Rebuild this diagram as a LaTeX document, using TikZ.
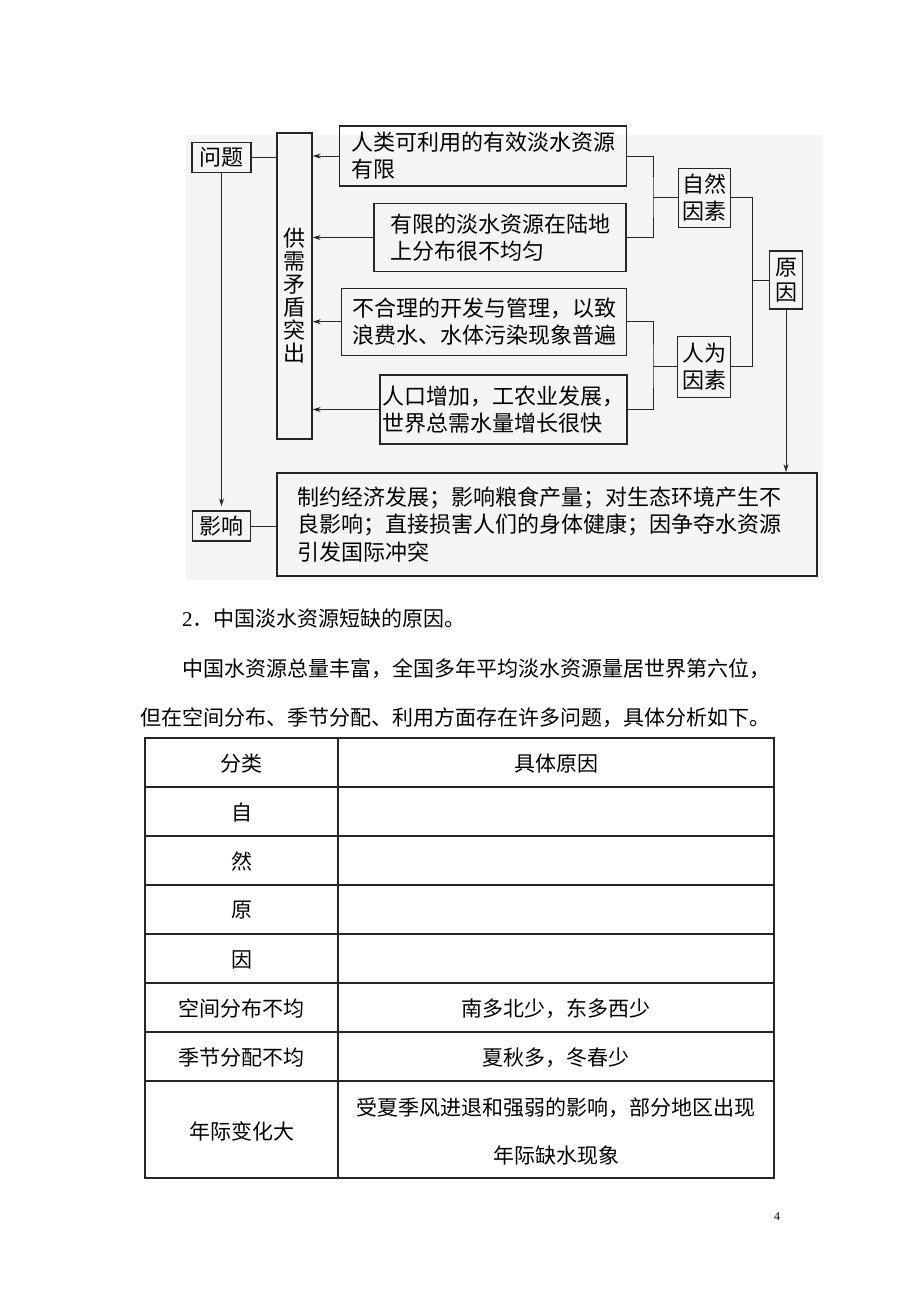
\documentclass[tikz,border=0pt]{standalone}
\usepackage{fontspec}
\setmainfont{Liberation Serif}
\newfontfamily\cjk{Noto Sans CJK SC}
\usetikzlibrary{
  arrows.meta,
  calc,
  positioning,
}
\tikzstyle{box} = [
  rectangle,
  draw=black!85,
  line width=1.4pt,
  inner sep=0pt,
  align=left,
  font=\cjk\fontsize{22}{27}\selectfont,
]
\tikzstyle{link} = [draw=black!85,line width=1pt]
\tikzstyle{linkarrow} = [-{Stealth[length=8pt,width=5pt]},draw=black!85,line width=1pt]
\tikzstyle{tabline} = [draw=black!85,line width=1.1pt]
\tikzstyle{cell} = [inner sep=0pt,align=center,font=\cjk\fontsize{21}{48}\selectfont]
\tikzstyle{para} = [anchor=west,inner sep=0pt,font=\cjk\fontsize{21}{25}\selectfont]

\begin{document}
\begin{tikzpicture}[x=1pt,y=-1pt]
			\useasboundingbox (0,0) rectangle (920,1302);
			\fill[black!4] (186,135) rectangle (823,580);

			\node[box,minimum width=59,minimum height=30] (wt) at (221.5,157.5) {问题};
			\node[box,minimum width=35,minimum height=306,align=center,font=\cjk\fontsize{22}{23}\selectfont] (mao) at (294.5,286) {\rule{0pt}{37pt}供\\需\\矛\\盾\\突\\出};

			\node[box,minimum width=287,minimum height=60] (b1) at (483,156) {人类可利用的有效淡水资源\\有限};
			\node[box,minimum width=252,minimum height=68] (b2) at (500,237.5) {有限的淡水资源在陆地\\上分布很不均匀};
			\node[box,minimum width=285,minimum height=67] (b3) at (484.2,321.7) {不合理的开发与管理，以致\\浪费水、水体污染现象普遍};
			\node[box,inner xsep=2.5pt,minimum height=69] (b4) at (503.5,409.5) {人口增加，工农业发展，\\世界总需水量增长很快};

			\node[box,minimum width=52,minimum height=59,align=center] (zr) at (704.5,197.7) {自然\\因素};
			\node[box,minimum width=53,minimum height=61,align=center] (rw) at (704,366.7) {人为\\因素};
			\node[box,minimum width=33,minimum height=58,align=center,font=\cjk\fontsize{22}{25}\selectfont] (yy) at (786,280) {原\\因};

			\node[box,minimum width=58,minimum height=30] (yx) at (221.5,526) {影响};
			\node[box,text width=500,inner xsep=20pt,minimum height=103,font=\cjk\fontsize{22}{27.7}\selectfont] (hx) at (547,524.3) {制约经济发展；影响粮食产量；对生态环境产生不\\良影响；直接损害人们的身体健康；因争夺水资源\\引发国际冲突};

			\coordinate (j1) at (653,197.7);
			\coordinate (j2) at (653,366.7);
			\coordinate (j3) at (752.7,280);

			\draw[link] (wt.east) -- (wt.east -| mao.west);
			\foreach \b in {b1,b2,b3,b4}
				\draw[linkarrow] (\b.west) -- (\b.west -| mao.east);

			\draw[link] (b1.east) -| (j1) |- (b2.east);
			\draw[link] (j1) -- (zr.west);
			\draw[link] (b3.east) -| (j2) |- (b4.east);
			\draw[link] (j2) -- (rw.west);
			\draw[link] (zr.east) -| (j3) |- (rw.east);
			\draw[link] (j3) -- (yy.west);

			\draw[linkarrow] (yy.south) -- (yy.south |- hx.north);
			\draw[linkarrow,shorten >=4pt] (wt.south) -- (yx.north);
			\draw[link] (yx.east) -- (yx.east -| hx.west);

			% text under the chart
			\node[para] (t1) at (182,618) {{\rmfamily 2}．中国淡水资源短缺的原因。};
			\node[para] (t2) at (182,669) {中国水资源总量丰富，全国多年平均淡水资源量居世界第六位，};
			\node[para] (t3) at (140,718) {但在空间分布、季节分配、利用方面存在许多问题，具体分析如下。};

			% table
			\draw[tabline] (145,738) rectangle (774,1178);
			\foreach \y in {787,836,885,934,983,1032,1081}
				\draw[tabline] (145,\y) -- (774,\y);
			\draw[tabline] (338,738) -- (338,1178);

			\node[cell] (h1) at (241.5,763.5) {分类};
			\node[cell] (h2) at (556,763.5) {具体原因};
			\foreach \y/\t [count=\i] in {812.5/自,861.5/然,910.5/原,959.5/因}
				\node[cell] (k\i) at (241.5,\y) {\t};
			\node[cell] (k5) at (241.5,1008.5) {空间分布不均};
			\node[cell] (r5) at (556,1008.5) {南多北少，东多西少};
			\node[cell] (k6) at (241.5,1057.5) {季节分配不均};
			\node[cell] (r6) at (556,1057.5) {夏秋多，冬春少};
			\node[cell] (k7) at (241.5,1131) {年际变化大};
			\node[cell] (r7) at (556,1131) {受夏季风进退和强弱的影响，部分地区出现\\年际缺水现象};

			\node[font=\fontsize{12}{14}\selectfont,inner sep=0pt] (pg) at (777,1217) {4};
		\end{tikzpicture}
\end{document}
